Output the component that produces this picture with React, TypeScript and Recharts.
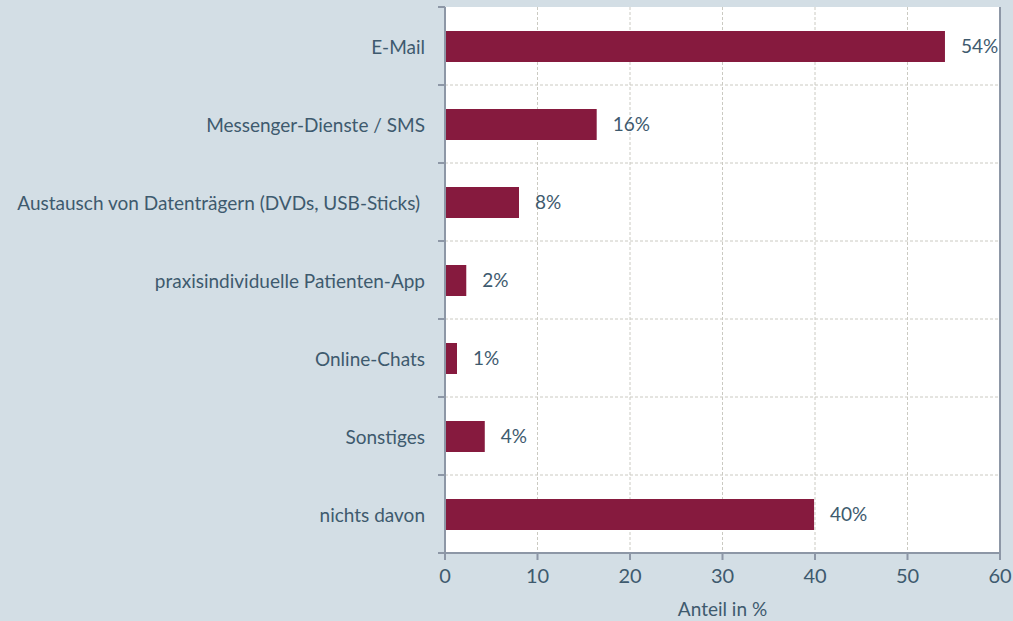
import React from "react";
import {
  BarChart,
  Bar,
  XAxis,
  YAxis,
  CartesianGrid,
  LabelList,
} from "recharts";

const categories = [
  "E-Mail",
  "Messenger-Dienste / SMS",
  "Austausch von Datenträgern (DVDs, USB-Sticks) ",
  "praxisindividuelle Patienten-App",
  "Online-Chats",
  "Sonstiges",
  "nichts davon",
];
const shares = [54.05, 16.4, 8.0, 2.3, 1.3, 4.3, 39.9];
const shareLabels = ["54%", "16%", "8%", "2%", "1%", "4%", "40%"];
const xTicks = [0, 10, 20, 30, 40, 50, 60];

const data = categories.map((name, i) => ({
  name,
  value: shares[i],
  label: shareLabels[i],
}));

const W = 1013;
const H = 621;
const TOP = 7;
const X_H = 68;
const Y_W = 445;
const R_W = 13;
const PLOT_H = H - TOP - X_H;
const BAND = PLOT_H / categories.length;

const BG = "#d3dee5";
const TXT = "#3e5a6e";
const AX = "#8d97a6";
const BAR = "#861a3e";
const FONT = "Lato, 'Open Sans', sans-serif";

const YTick = (props: any) => {
  const { x, y, payload, index } = props;
  const half = BAND / 2;
  return (
    <g>
      <line x1={Y_W - 7} x2={Y_W} y1={y - half} y2={y - half} stroke={AX} strokeWidth={2} />
      {index === categories.length - 1 && (
        <line x1={Y_W - 7} x2={Y_W} y1={y + half} y2={y + half} stroke={AX} strokeWidth={2} />
      )}
      <text
        x={x - 12}
        y={y}
        textAnchor="end"
        dominantBaseline="central"
        fill={TXT}
        fontSize={19}
        fontFamily={FONT}
        style={{ whiteSpace: "pre" }}
      >
        {payload.value}
      </text>
    </g>
  );
};

const hGrid = ({ offset }: any) =>
  categories.slice(1).map((_, i) => offset.top + (i + 1) * (offset.height / categories.length));

export default function App() {
  return (
    <div style={{ width: W, height: H, background: BG, position: "relative" }}>
      <style>{`body{margin:0;}`}</style>
      <BarChart
        width={W}
        height={H}
        data={data}
        layout="vertical"
        margin={{ top: TOP, right: 0, bottom: 0, left: 0 }}
      >
        <CartesianGrid
          stroke="#cbcac2"
          strokeDasharray="3 2"
          fill="#ffffff"
          horizontalCoordinatesGenerator={hGrid}
        />
        <XAxis
          type="number"
          domain={[0, 60]}
          ticks={xTicks}
          interval={0}
          height={X_H}
          axisLine={{ stroke: AX, strokeWidth: 2 }}
          tickLine={{ stroke: AX, strokeWidth: 2 }}
          tickSize={7}
          tickMargin={9}
          tick={{ fill: TXT, fontSize: 20, fontFamily: FONT }}
          label={{
            value: "Anteil in %",
            position: "insideBottom",
            offset: 5,
            fill: TXT,
            fontSize: 19,
            fontFamily: FONT,
          }}
        />
        <XAxis
          xAxisId="top"
          orientation="top"
          type="number"
          domain={[0, 60]}
          height={0}
          tick={false}
          tickLine={false}
          axisLine={{ stroke: AX, strokeWidth: 2 }}
        />
        <YAxis
          type="category"
          dataKey="name"
          width={Y_W}
          interval={0}
          axisLine={{ stroke: AX, strokeWidth: 2 }}
          tickLine={false}
          tick={<YTick />}
        />
        <YAxis
          yAxisId="right"
          orientation="right"
          type="category"
          dataKey="name"
          width={R_W}
          tick={false}
          tickLine={false}
          axisLine={{ stroke: AX, strokeWidth: 2 }}
        />
        <Bar dataKey="value" fill={BAR} barSize={31} isAnimationActive={false}>
          <LabelList
            dataKey="label"
            position="right"
            offset={16}
            fill={TXT}
            fontSize={19}
            fontFamily={FONT}
          />
        </Bar>
      </BarChart>
    </div>
  );
}
